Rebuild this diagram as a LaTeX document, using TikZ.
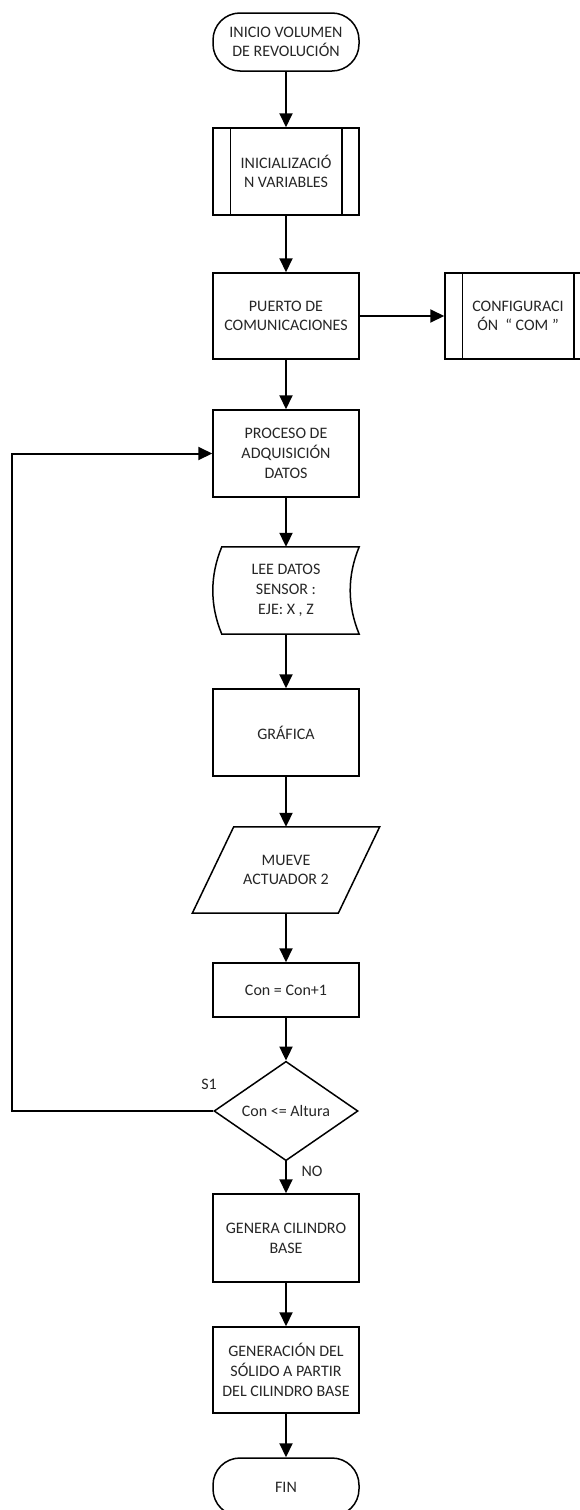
\documentclass[tikz,border=0pt]{standalone}
\usepackage{fontspec}
\setmainfont{Carlito}
\usetikzlibrary{shapes.geometric,arrows.meta,calc}
\begin{document}
\begin{tikzpicture}[x=1pt,y=-1pt,
  base/.style={minimum width=146pt, inner sep=0pt, align=center,
    font=\fontsize{16pt}{19.7pt}\selectfont, text=black!85},
  box/.style={base, draw, line width=1.5pt, minimum height=87pt},
  term/.style={base, draw, line width=1.5pt, minimum height=58pt, rounded corners=27pt},
  ghost/.style={base, minimum height=87pt},
  shapeline/.style={line width=1.5pt},
  link/.style={line width=2pt, -{Triangle[length=14pt,width=13pt]}},
  lbl/.style={inner sep=0pt, font=\fontsize{16pt}{19.7pt}\selectfont, text=black!85}
]
\useasboundingbox (0,0) rectangle (580,1510);
\clip (0,0) rectangle (580,1510);

\node[term] (start) at (286,42) {INICIO VOLUMEN\\DE REVOLUCIÓN};
\node[box] (init) at (286,171.5) {INICIALIZACIÓ\\N VARIABLES};
\node[box, minimum height=86pt] (puerto) at (286,316) {PUERTO DE\\COMUNICACIONES};
\node[box, minimum height=86pt] (config) at (518,316) {CONFIGURACI\\ÓN \ “ COM ”};
\node[box] (proc) at (286,453.5) {PROCESO DE\\ADQUISICIÓN\\DATOS};
\node[ghost] (lee) at (286,590.5) {LEE DATOS\\SENSOR :\\EJE: X , Z};
\node[box] (graf) at (286,732.5) {GRÁFICA};
\node[ghost, minimum width=187pt, minimum height=86pt] (mueve) at (286,870) {MUEVE\\ACTUADOR 2};
\node[box, minimum height=54pt] (con) at (286,990) {Con = Con+1};
\node[base, draw, shape=diamond, line width=1.5pt, minimum width=144pt, minimum height=85pt] (dec) at (286,1111) {Con <= Altura};
\node[box, minimum height=88pt] (gen) at (286,1238) {GENERA CILINDRO\\BASE};
\node[box, minimum height=86pt] (sol) at (286,1370) {GENERACIÓN DEL\\SÓLIDO A PARTIR\\DEL CILINDRO BASE};
\node[term] (fin) at (286,1487) {FIN};

% subroutine bars
\draw[shapeline] ([xshift=18pt]init.north west) -- ([xshift=18pt]init.south west);
\draw[shapeline] ([xshift=-18pt]init.north east) -- ([xshift=-18pt]init.south east);
\draw[shapeline] ([xshift=18pt]config.north west) -- ([xshift=18pt]config.south west);
\draw[shapeline] ([xshift=-18pt]config.north east) -- ([xshift=-18pt]config.south east);

% stored data shape
\draw[shapeline] ($(lee.north west)+(9,0)$) -- (lee.north east)
  .. controls ($(lee.north east)+(-12,29)$) and ($(lee.south east)+(-12,-29)$) .. (lee.south east)
  -- ($(lee.south west)+(9,0)$)
  .. controls ($(lee.south west)+(-3,-29)$) and ($(lee.north west)+(-3,29)$) .. ($(lee.north west)+(9,0)$) -- cycle;

% parallelogram
\draw[shapeline] (mueve.north east) -- ($(mueve.north east)+(-146,0)$)
  -- (mueve.south west) -- ($(mueve.south west)+(146,0)$) -- cycle;

% connectors
\draw[link] (start) -- (init);
\draw[link] (init) -- (puerto);
\draw[link] (puerto) -- (config);
\draw[link] (puerto) -- (proc);
\draw[link] (proc) -- (lee.north);
\draw[link] (lee.south) -- (graf);
\draw[link] (graf) -- (mueve.north);
\draw[link] (mueve.south) -- (con);
\draw[link] (con) -- (dec);
\draw[link] (dec) -- (gen);
\draw[link] (gen) -- (sol);
\draw[link] (sol) -- (fin);
\coordinate (loopc) at (12,1111);
\draw[link] (dec.west) -- (loopc) |- (proc.west);

\node[lbl] (s1) at (209,1084) {S1};
\node[lbl] (no) at (312,1171) {NO};
\end{tikzpicture}
\end{document}
